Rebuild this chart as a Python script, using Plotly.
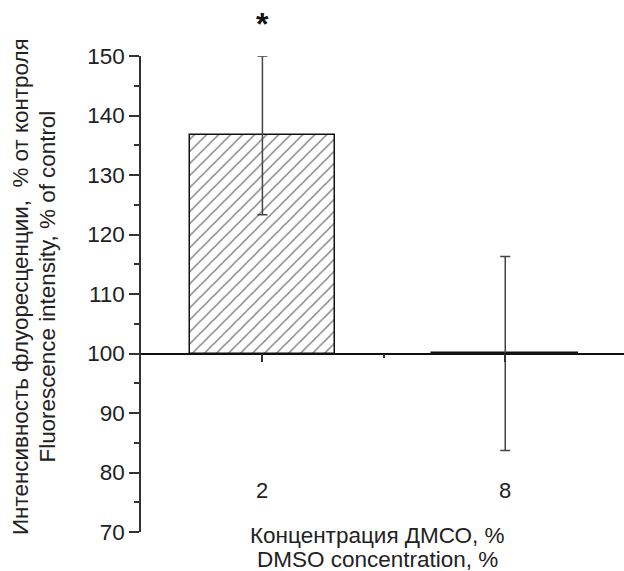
import plotly.graph_objects as go

# ---- data ----
categories = ["2", "8"]
cat_pos = [1, 2]
values = [136.7, 100.1]
err_plus = [13.3, 16.2]
err_minus = [13.4, 16.4]
baseline = 100
y_ticks = [70, 80, 90, 100, 110, 120, 130, 140, 150]
sig_marks = ["*", ""]

y_title_lines = ["Интенсивность флуоресценции,  % от контроля",
                 "Fluorescence intensity, % of control"]
x_title_lines = ["Концентрация ДМСО, %", "DMSO concentration, %"]

FONT = "Liberation Sans, Arial, sans-serif"
AX = "#333333"
TXT = "#222222"

W, H = 624, 571
ML, MR, MT, MB = 141, 0, 56, 39
PW = W - ML - MR
PH = H - MT - MB

fig = go.Figure()
fig.add_trace(go.Bar(
    x=cat_pos,
    y=[v - baseline for v in values],
    base=[baseline] * len(values),
    width=0.6,
    marker=dict(
        color="white",
        line=dict(color="#111111", width=1.5),
        pattern=dict(shape="/", fgcolor="#000000", bgcolor="white", size=8.5, solidity=0.17),
    ),
    error_y=dict(type="data", symmetric=False, array=err_plus, arrayminus=err_minus,
                 color="#444444", thickness=1.5, width=5),
    cliponaxis=False,
    showlegend=False,
))

fig.update_layout(
    width=W, height=H,
    margin=dict(l=ML, r=MR, t=MT, b=MB),
    paper_bgcolor="white", plot_bgcolor="white",
    font=dict(family=FONT, color=TXT),
    bargap=0,
)

fig.update_xaxes(
    range=[0.5, 2.489],
    anchor="free", position=(baseline - 70) / 80.0,
    showline=True, linecolor="#111111", linewidth=1.5,
    ticks="outside", ticklen=8, tickwidth=1.5, tickcolor=AX,
    tickvals=cat_pos, showticklabels=False,
    minor=dict(tickvals=[1.5], ticks="outside", ticklen=4, tickwidth=1.5, tickcolor=AX),
    showgrid=False, zeroline=False,
)
fig.update_yaxes(
    range=[70, 150],
    showline=True, linecolor=AX, linewidth=1.5,
    ticks="outside", ticklen=10, tickwidth=1.5, tickcolor=AX,
    tickvals=y_ticks, ticktext=[str(t) for t in y_ticks],
    tickfont=dict(size=22.5, family=FONT, color=TXT),
    minor=dict(dtick=5, ticks="outside", ticklen=5, tickwidth=1.5, tickcolor=AX),
    showgrid=False, zeroline=False,
)

ann = []
# category labels
for xp, lab in zip(cat_pos, categories):
    ann.append(dict(x=xp, y=0, xref="x", yref="paper", text=lab, showarrow=False,
                    xanchor="center", yanchor="middle", yshift=(531.7 - 490),
                    font=dict(size=22, family=FONT, color=TXT)))
# significance marks
for xp, v, ep, m in zip(cat_pos, values, err_plus, sig_marks):
    if m:
        ann.append(dict(x=xp, y=1, xref="x", yref="paper", text="<b>" + m + "</b>",
                        showarrow=False, xanchor="center", yanchor="middle",
                        yshift=(MT - 24), font=dict(size=32, family=FONT, color="#111111")))
# y title lines
for cx, line in zip([20, 46.5], y_title_lines):
    ann.append(dict(x=0, y=0.5, xref="paper", yref="paper", text=line, textangle=-90,
                    showarrow=False, xanchor="center", yanchor="middle",
                    xshift=cx - ML, yshift=(MT + PH / 2) - 287,
                    font=dict(size=22.4, family=FONT, color=TXT)))
# x title lines
for cy, line in zip([535, 559.5], x_title_lines):
    ann.append(dict(x=0, y=0, xref="paper", yref="paper", text=line,
                    showarrow=False, xanchor="center", yanchor="middle",
                    xshift=377 - ML, yshift=(MT + PH) - cy, borderpad=0,
                    font=dict(size=22.5, family=FONT, color=TXT)))
fig.update_layout(annotations=ann)

fig.write_html("out.html", config={"displayModeBar": False},
               post_script="document.body.style.margin='0px';document.body.style.overflow='hidden';")
